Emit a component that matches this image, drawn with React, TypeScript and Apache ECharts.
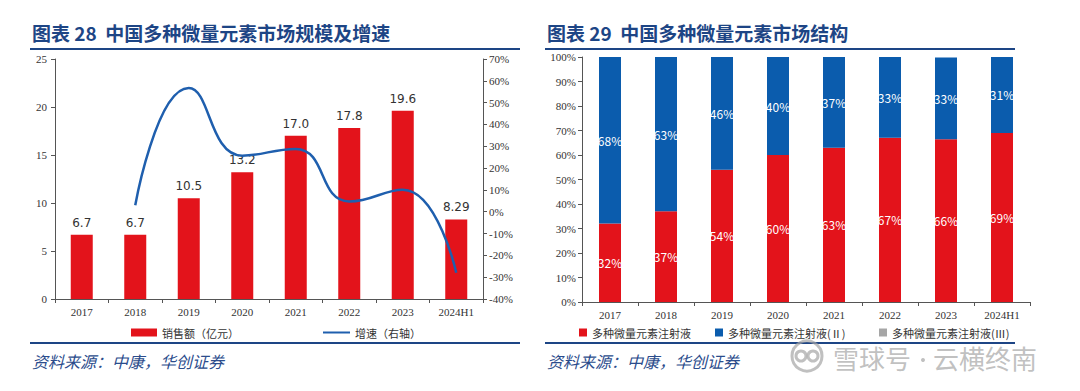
import React, { useEffect, useRef } from "react";
import * as echarts from "echarts";

const years = ["2017", "2018", "2019", "2020", "2021", "2022", "2023", "2024H1"];
const sales = [6.7, 6.7, 10.5, 13.2, 17.0, 17.8, 19.6, 8.29];
const salesLabels = ["6.7", "6.7", "10.5", "13.2", "17.0", "17.8", "19.6", "8.29"];
const growth = [null, 3, 56.7, 25.7, 28.8, 4.7, 10.1, -28];
const shareI = [32, 37, 54, 60, 63, 67, 66.4, 69];
const shareII = [68, 63, 46, 40, 37, 33, 33.4, 31];
const shareIII = [0, 0, 0, 0, 0, 0, 0, 0];

const title1 = "图表 28  中国多种微量元素市场规模及增速";
const title2 = "图表 29  中国多种微量元素市场结构";
const source = "资料来源：中康，华创证券";
const nameSales = "销售额（亿元）";
const nameGrowth = "增速（右轴）";
const nameI = "多种微量元素注射液";
const nameII = "多种微量元素注射液(Ⅱ)";
const nameIII = "多种微量元素注射液(Ⅲ)";

const RED = "#e3131b";
const BLUE = "#0b5cad";
const LINE = "#1f5fae";
const NAVY = "#1d4585";
const AX = "#555";
const SERIF = "'Liberation Serif', 'Times New Roman', serif";
const SANS = "'Noto Sans CJK SC', 'Liberation Sans', sans-serif";

export default function App() {
  const ref = useRef<HTMLDivElement>(null);
  useEffect(() => {
    document.body.style.margin = "0";
    const chart = echarts.init(ref.current!, null, { renderer: "svg" });
    const axisLabel = { color: "#333", fontFamily: SERIF, fontSize: 11 };
    const axisLine = { show: true, lineStyle: { color: AX, width: 1 } };
    const axisTick = { show: true, length: 4, lineStyle: { color: AX } };
    const legendText = { color: "#333", fontFamily: SANS, fontSize: 11 };
    const pct = (p: any) => Math.round(p.value) + "%";
    const WM = "rgba(165,165,165,0.7)";
    chart.setOption({
      animation: false,
      grid: [
        { left: 55, right: 597, top: 59, bottom: 92 },
        { left: 582, right: 50, top: 57, bottom: 89 },
      ],
      xAxis: [
        { type: "category", gridIndex: 0, data: years, axisLine, axisTick, axisLabel: { ...axisLabel, margin: 7 } },
        { type: "category", gridIndex: 1, data: years, axisLine, axisTick, axisLabel: { ...axisLabel, margin: 7 } },
      ],
      yAxis: [
        { type: "value", gridIndex: 0, min: 0, max: 25, interval: 5, axisLine, axisTick, axisLabel: { ...axisLabel, margin: 8 }, splitLine: { show: false } },
        { type: "value", gridIndex: 0, min: -40, max: 70, interval: 10, position: "right", axisLine, axisTick, axisLabel: { ...axisLabel, formatter: "{value}%", margin: 6 }, splitLine: { show: false } },
        { type: "value", gridIndex: 1, min: 0, max: 100, interval: 10, axisLine, axisTick, axisLabel: { ...axisLabel, formatter: "{value}%", margin: 6 }, splitLine: { show: false } },
      ],
      legend: [
        { data: [nameSales], left: 126, top: 322, itemWidth: 26, itemHeight: 8, textStyle: legendText, icon: "rect" },
        { data: [nameGrowth], left: 318, top: 322, itemWidth: 27, itemHeight: 2, icon: "rect", textStyle: legendText },
        { data: [nameI], left: 574, top: 322, itemWidth: 8, itemHeight: 8, icon: "rect", textStyle: legendText },
        { data: [nameII], left: 710, top: 322, itemWidth: 8, itemHeight: 8, icon: "rect", textStyle: legendText },
        { data: [nameIII], left: 874, top: 322, itemWidth: 8, itemHeight: 8, icon: "rect", textStyle: legendText },
      ],
      series: [
        {
          name: nameSales, type: "bar", xAxisIndex: 0, yAxisIndex: 0, data: sales, barWidth: 22,
          itemStyle: { color: RED },
          label: { show: true, position: "top", distance: 6, color: "#333", fontFamily: "'DejaVu Sans', sans-serif", fontSize: 12, formatter: (p: any) => salesLabels[p.dataIndex] },
        },
        {
          name: nameGrowth, type: "line", xAxisIndex: 0, yAxisIndex: 1, data: growth, smooth: 0.5,
          symbol: "none", lineStyle: { color: LINE, width: 2.5 }, itemStyle: { color: LINE },
        },
        {
          name: nameI, type: "bar", stack: "s", xAxisIndex: 1, yAxisIndex: 2, data: shareI, barWidth: 22,
          itemStyle: { color: RED },
          label: { show: true, position: "inside", color: "#fff", fontFamily: SANS, fontSize: 12, formatter: pct },
        },
        {
          name: nameII, type: "bar", stack: "s", xAxisIndex: 1, yAxisIndex: 2, data: shareII, barWidth: 22,
          itemStyle: { color: BLUE },
          label: { show: true, position: "inside", color: "#fff", fontFamily: SANS, fontSize: 12, formatter: pct },
        },
        {
          name: nameIII, type: "bar", stack: "s", xAxisIndex: 1, yAxisIndex: 2, data: shareIII, barWidth: 22,
          itemStyle: { color: "#a6a6a6" },
        },
      ],
      graphic: [
        { type: "text", left: 32, top: 23, style: { text: title1, fill: NAVY, font: `bold 19px ${SANS}` } },
        { type: "text", left: 547, top: 23, style: { text: title2, fill: NAVY, font: `bold 19px ${SANS}` } },
        { type: "line", shape: { x1: 30, y1: 49, x2: 520, y2: 49 }, style: { stroke: NAVY, lineWidth: 2 } },
        { type: "line", shape: { x1: 545, y1: 49, x2: 1015, y2: 49 }, style: { stroke: NAVY, lineWidth: 2 } },
        { type: "line", shape: { x1: 30, y1: 343, x2: 520, y2: 343 }, style: { stroke: NAVY, lineWidth: 2 } },
        { type: "line", shape: { x1: 545, y1: 343, x2: 1015, y2: 343 }, style: { stroke: NAVY, lineWidth: 2 } },
        { type: "text", left: 32, top: 353, style: { text: source, fill: "#2b4c8c", font: `italic 16px ${SANS}` } },
        { type: "text", left: 547, top: 353, style: { text: source, fill: "#2b4c8c", font: `italic 16px ${SANS}` } },
        { type: "circle", shape: { cx: 807, cy: 356, r: 15 }, style: { fill: "none", stroke: WM, lineWidth: 3 } },
        { type: "circle", shape: { cx: 801, cy: 356, r: 5 }, style: { fill: "none", stroke: WM, lineWidth: 3 } },
        { type: "circle", shape: { cx: 813, cy: 356, r: 5 }, style: { fill: "none", stroke: WM, lineWidth: 3 } },
        { type: "text", left: 833, top: 344, style: { text: "雪球号", fill: WM, font: `26px ${SANS}` } },
        { type: "circle", shape: { cx: 923, cy: 360, r: 2 }, style: { fill: WM } },
        { type: "text", left: 933, top: 344, style: { text: "云横终南", fill: WM, font: `26px ${SANS}` } },
      ],
    });
    return () => chart.dispose();
  }, []);
  return <div ref={ref} style={{ position: "absolute", left: 0, top: 0, width: 1080, height: 391 }} />;
}
